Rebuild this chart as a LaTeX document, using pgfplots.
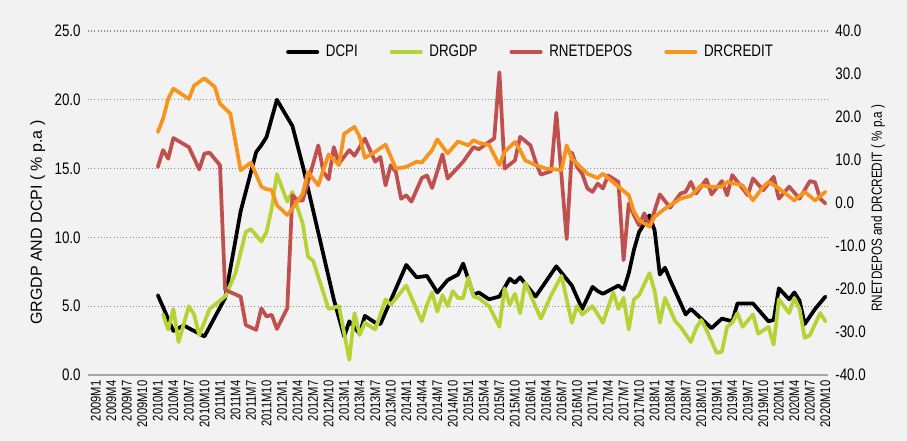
\documentclass[border=0pt]{standalone}
\usepackage{fontspec}
\setmainfont[FakeStretch=0.8]{Liberation Sans}
\newfontfamily\plainfont{Liberation Sans}
\usepackage{pgfplots}
\pgfplotsset{compat=1.18}
\definecolor{bgcol}{HTML}{F2F2F2}
\definecolor{cgreen}{HTML}{B5D334}
\definecolor{cred}{HTML}{C0504D}
\definecolor{corange}{HTML}{F7941D}
\begin{document}
\begin{tikzpicture}
\fill[bgcol] (-66pt,-49.5pt) rectangle (614.25pt,281.25pt);
\useasboundingbox (-66pt,-49.5pt) rectangle (614.25pt,281.25pt);
\pgfplotsset{
  common/.style={
    at={(0,0)}, anchor=south west,
    scale only axis, width=555pt, height=258pt,
    xmin=-13.5, xmax=129.5,
    major tick length=0pt,
    /pgf/number format/.cd, fixed, fixed zerofill, precision=1, assume math mode=true,
    /pgfplots/.cd,
    yticklabel style={font=\fontsize{12.5}{12.5}\selectfont},
    every axis plot/.append style={line width=2.8pt, line join=round, line cap=round},
  }
}
\begin{axis}[common,
  ymin=0, ymax=25, ytick={0,5,...,25},
  axis x line*=bottom, axis y line*=left,
  y axis line style={draw=none},
  x axis line style={draw=black!35, line width=2pt, -},
  ymajorgrids, major grid style={black!45, dotted, line width=0.9pt},
  xtick={-12,-9,...,129},
  xticklabels={2009M1,2009M4,2009M7,2009M10,2010M1,2010M4,2010M7,2010M10,2011M1,2011M4,2011M7,2011M10,2012M1,2012M4,2012M7,2012M10,2013M1,2013M4,2013M7,2013M10,2014M1,2014M4,2014M7,2014M10,2015M1,2015M4,2015M7,2015M10,2016M1,2016M4,2016M7,2016M10,2017M1,2017M4,2017M7,2017M10,2018M1,2018M4,2018M7,2018M10,2019M1,2019M4,2019M7,2019M10,2020M1,2020M4,2020M7,2020M10},
  xticklabel style={rotate=90, anchor=east, font=\fontsize{10.5}{10.5}\selectfont, inner sep=1pt, xshift=-3pt},
  yticklabel style={xshift=-2pt},
  ylabel={\plainfont GRGDP AND DCPI ( \% p.a )},
  ylabel style={at={(axis description cs:-0.068,0.443)}, anchor=center, rotate=0, font=\fontsize{12}{12}\selectfont},
]
\addplot[black] coordinates {(0,5.8)(3,3.2)(5,3.6)(9,2.8)(13,5.6)(16,11.9)(19,16.2)(20,16.7)(21,17.3)(23,20.0)(26,18.1)(28,15.2)(34,5.5)(36,2.8)(37,3.9)(39,3.0)(40,4.3)(42,3.8)(43,3.7)(48,8.0)(50,7.1)(52,7.2)(54,6.0)(56,6.9)(58,7.3)(59,8.1)(61,5.8)(62,6.0)(64,5.5)(66,5.7)(68,7.0)(69,6.7)(70,7.1)(73,5.7)(77,7.9)(80,6.5)(82,4.8)(84,6.4)(85,6.1)(86,5.9)(89,6.5)(90,6.2)(91,7.4)(92,9.1)(93,10.4)(95,11.6)(96,10.5)(97,7.3)(98,7.8)(99,6.9)(102,4.4)(103,4.8)(107,3.4)(109,4.1)(111,3.9)(112,5.2)(115,5.2)(118,3.9)(119,4.0)(120,6.3)(122,5.5)(123,6.0)(124,5.4)(125,3.7)(127,4.8)(129,5.7)};
\addplot[cgreen] coordinates {(1,4.4)(2,3.3)(3,4.8)(4,2.4)(6,5.0)(7,4.4)(8,2.9)(10,4.8)(13,5.7)(15,7.4)(17,10.4)(18,10.6)(20,9.7)(21,10.4)(22,12.1)(23,14.6)(25,12.6)(26,13.3)(28,11.0)(29,8.6)(30,8.3)(33,4.8)(35,5.0)(37,1.1)(38,4.5)(39,2.9)(40,3.8)(42,3.3)(44,5.5)(45,5.1)(48,6.5)(51,3.9)(52,5.1)(53,6.0)(54,4.6)(55,5.8)(56,5.0)(57,6.1)(58,5.6)(59,5.6)(60,7.1)(61,5.7)(62,5.6)(64,5.0)(66,3.5)(67,6.3)(68,5.1)(69,5.9)(70,4.5)(71,6.7)(74,4.1)(76,5.8)(78,7.2)(80,3.8)(81,5.0)(82,4.4)(84,5.0)(86,3.8)(88,6.0)(89,4.8)(90,5.6)(91,3.3)(92,5.5)(93,5.8)(95,7.4)(96,6.1)(97,3.8)(98,5.6)(100,3.9)(101,3.5)(103,2.4)(104,3.4)(105,4.0)(106,3.3)(108,1.6)(109,1.7)(110,3.5)(111,3.8)(112,4.5)(113,3.5)(115,4.4)(116,3.0)(118,3.5)(119,2.2)(120,5.5)(122,4.5)(123,5.6)(124,4.8)(125,2.7)(126,2.9)(128,4.5)(129,3.9)};
\end{axis}
\begin{axis}[common,
  ymin=-40, ymax=40, ytick={-40,-30,...,40},
  hide x axis,
  axis y line*=right,
  y axis line style={draw=none},
  yticklabel style={xshift=2pt},
  ylabel={RNETDEPOS and DRCREDIT ( \% p.a )},
  ylabel style={at={(axis description cs:1.0676,0.485)}, anchor=center, rotate=0, font=\fontsize{11}{11}\selectfont},
  legend columns=4,
  legend style={draw=none, fill=none, at={(rel axis cs:0.262,0.939)}, anchor=west,
    font=\fontsize{12.5}{12.5}\selectfont, column sep=3pt,
    /tikz/every even column/.append style={column sep=22pt}},
  legend image code/.code={\draw[#1, line width=2.8pt, line cap=round] (0pt,0pt) -- (22pt,0pt);},
]
\addlegendimage{black}
\addlegendentry{DCPI}
\addlegendimage{cgreen}
\addlegendentry{DRGDP}
\addplot[cred] coordinates {(0,8.4)(1,12.3)(2,10.3)(3,15.1)(6,13.0)(8,7.8)(9,11.5)(10,11.7)(12,8.8)(13,-20.2)(16,-21.8)(17,-28.4)(19,-29.5)(20,-24.5)(21,-26.4)(22,-26.0)(23,-29.3)(25,-24.5)(26,1.8)(27,0.6)(28,0.6)(31,13.4)(32,7.2)(33,5.5)(34,13.0)(35,9.2)(37,12.3)(38,11.0)(40,15.0)(42,9.6)(43,10.7)(44,4.1)(45,8.8)(46,7.2)(47,1.0)(48,1.8)(49,0.3)(51,5.8)(52,6.4)(53,3.5)(55,11.3)(56,5.7)(59,9.6)(61,13.0)(62,12.5)(64,14.2)(65,15.0)(66,30.4)(67,8.0)(69,9.9)(70,15.4)(72,13.4)(73,9.6)(74,6.6)(76,7.4)(77,21.0)(79,-8.4)(80,11.7)(81,8.4)(82,6.8)(83,3.4)(84,2.6)(85,4.5)(86,3.4)(87,6.4)(89,4.9)(90,-13.3)(91,-0.1)(92,-2.8)(93,-5.2)(94,-2.4)(95,-5.5)(97,2.0)(99,-1.1)(101,2.2)(102,2.6)(103,4.9)(104,2.2)(106,5.5)(107,2.0)(109,5.1)(110,1.8)(111,6.5)(114,1.8)(115,5.7)(117,3.0)(119,6.1)(120,1.0)(122,3.8)(124,1.0)(126,5.1)(127,4.8)(128,1.0)(129,-0.1)};
\addlegendentry{RNETDEPOS}
\addplot[corange] coordinates {(0,16.5)(1,19.6)(2,24.2)(3,26.6)(6,24.2)(7,27.3)(9,29.0)(11,27.0)(12,23.1)(14,20.8)(16,7.6)(18,9.4)(20,3.8)(21,3.2)(22,3.0)(23,-0.5)(25,-2.8)(26,-1.3)(28,2.2)(29,7.2)(31,4.1)(33,11.3)(35,8.8)(36,16.1)(38,17.7)(39,15.4)(40,10.5)(42,11.9)(44,13.6)(46,8.0)(48,8.4)(50,9.6)(51,9.4)(53,12.3)(54,14.8)(56,11.5)(58,14.3)(60,13.4)(61,14.6)(62,14.0)(64,13.5)(66,8.8)(67,11.9)(69,14.2)(70,12.3)(71,9.9)(73,8.8)(75,8.0)(77,7.8)(78,7.6)(79,13.4)(80,10.3)(82,8.0)(83,6.8)(85,5.8)(86,6.8)(89,3.8)(91,1.8)(92,-2.0)(93,-4.0)(95,-5.5)(96,-3.2)(98,-1.3)(99,-0.5)(101,1.0)(103,1.7)(105,4.1)(107,3.8)(109,3.8)(110,4.9)(113,4.1)(115,0.6)(117,3.8)(118,4.9)(120,3.4)(123,0.6)(125,2.6)(127,0.6)(129,2.6)};
\addlegendentry{DRCREDIT}
\end{axis}
\end{tikzpicture}
\end{document}
